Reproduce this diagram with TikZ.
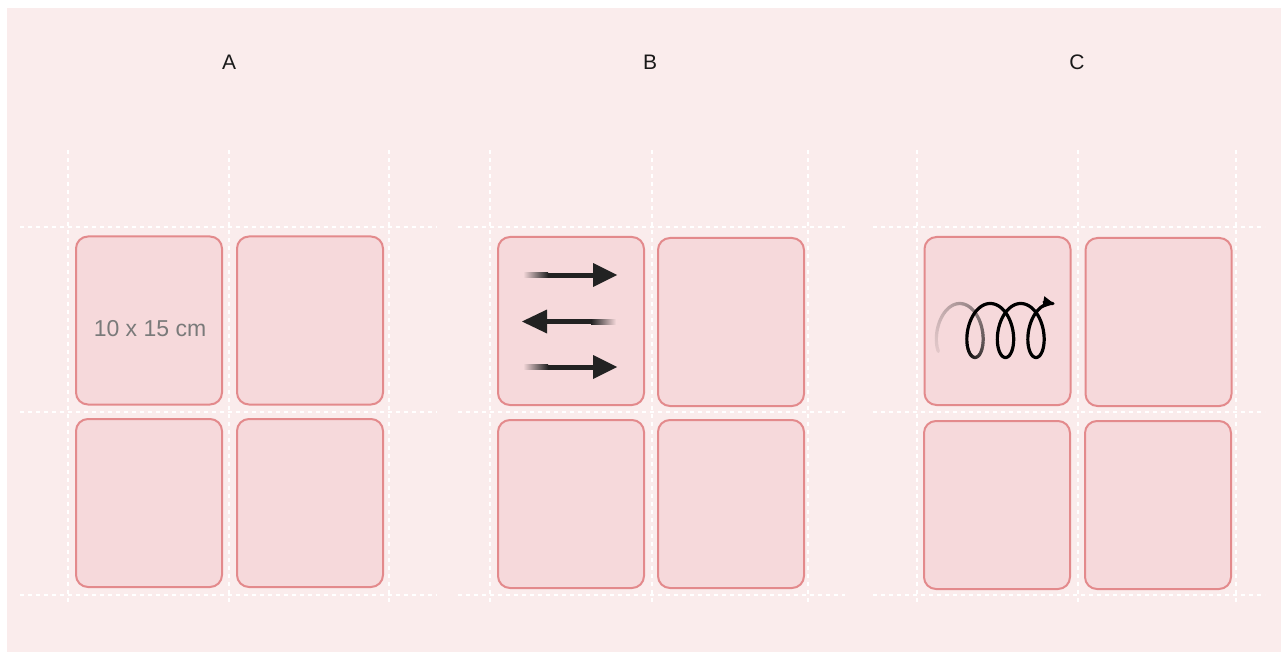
\documentclass[tikz,border=0pt]{standalone}
\usepackage{fontspec}
\setmainfont{Liberation Sans}
\usetikzlibrary{arrows.meta}
\definecolor{bgpink}{HTML}{FAECEC}
\definecolor{tilefill}{HTML}{F6D9DB}
\definecolor{tileline}{HTML}{E38A8C}
\definecolor{sizegray}{HTML}{7A7A7A}
\definecolor{arrowdark}{HTML}{222222}
\tikzset{
  tile/.style={draw=tileline, fill=tilefill, line width=2pt, rounded corners=12pt,
    minimum width=146pt, minimum height=168pt, inner sep=0pt},
  gridline/.style={draw=white, line width=2pt, dash pattern=on 4pt off 4pt},
  paneltitle/.style={font=\fontsize{21}{24}\selectfont, text=black!90},
  sizelabel/.style={font=\fontsize{23}{26}\selectfont, text=sizegray},
  headtri/.style={fill=arrowdark},
  coil/.style={line width=3.2pt, line cap=round, line join=round}
}
\begin{document}
\begin{tikzpicture}[x=1pt,y=-1pt]
\useasboundingbox[fill=white] (0,0) rectangle (1281,652);
\fill[bgpink] (7,8) rectangle (1281,652);

% grid lines
\foreach \x in {68,229,389,490,652,808,917,1078,1236}
  \draw[gridline] (\x,150) -- (\x,605);
\foreach \y in {227,412,595} {
  \draw[gridline] (20,\y) -- (437,\y);
  \draw[gridline] (458,\y) -- (845,\y);
  \draw[gridline] (873,\y) -- (1265,\y);
}

% titles
\node[paneltitle] (ta) at (229,62) {A};
\node[paneltitle] (tb) at (650,62) {B};
\node[paneltitle] (tc) at (1077,62) {C};

% panel A tiles
\node[tile] (a1) at (149,320.5) {};
\node[tile] (a2) at (310,320.5) {};
\node[tile] (a3) at (149,503) {};
\node[tile] (a4) at (310,503) {};
\node[sizelabel] (asize) at (150,329) {10 x 15 cm};

% panel B tiles
\node[tile] (b1) at (571,321) {};
\node[tile] (b2) at (731,322) {};
\node[tile] (b3) at (571,504) {};
\node[tile] (b4) at (731,504) {};

% panel C tiles
\node[tile] (c1) at (997.5,321) {};
\node[tile] (c2) at (1158.5,322) {};
\node[tile] (c3) at (997,505) {};
\node[tile] (c4) at (1158,505) {};

% B arrows (back and forth)
\shade[left color=tilefill, right color=arrowdark] (523,272.5) rectangle (548,277.5);
\fill[arrowdark] (547.5,272.5) rectangle (596,277.5);
\fill[headtri] (593,263) -- (617,275) -- (593,287) -- cycle;

\shade[left color=arrowdark, right color=tilefill] (591,319) rectangle (616,324);
\fill[arrowdark] (544,319) rectangle (591.5,324);
\fill[headtri] (547,309.5) -- (522,321.5) -- (547,333.5) -- cycle;

\shade[left color=tilefill, right color=arrowdark] (523,364.5) rectangle (548,369.5);
\fill[arrowdark] (547.5,364.5) rectangle (596,369.5);
\fill[headtri] (593,355) -- (617,367) -- (593,379) -- cycle;

% C coil (spiral motion), fading in at its start
\foreach \i in {0,...,65} {
  \pgfmathsetmacro\ta{-5.6+\i*0.1}
  \pgfmathsetmacro\tb{-5.6+(\i+1)*0.1}
  \pgfmathsetmacro\pc{8+92*(\i/66)^1.4}
  \draw[coil, color=black!\pc!tilefill]
    ({975+4.854*\ta-15*sin(\ta r)},{330.5+27*cos(\ta r)}) --
    ({975+4.854*\tb-15*sin(\tb r)},{330.5+27*cos(\tb r)});
}
\draw[coil, black, -{Triangle[length=11pt,width=11pt]}]
  plot[domain=1.0:15.86, samples=240, variable=\t]
  ({975+4.854*\t-15*sin(\t r)},{330.5+27*cos(\t r)});
\end{tikzpicture}
\end{document}
